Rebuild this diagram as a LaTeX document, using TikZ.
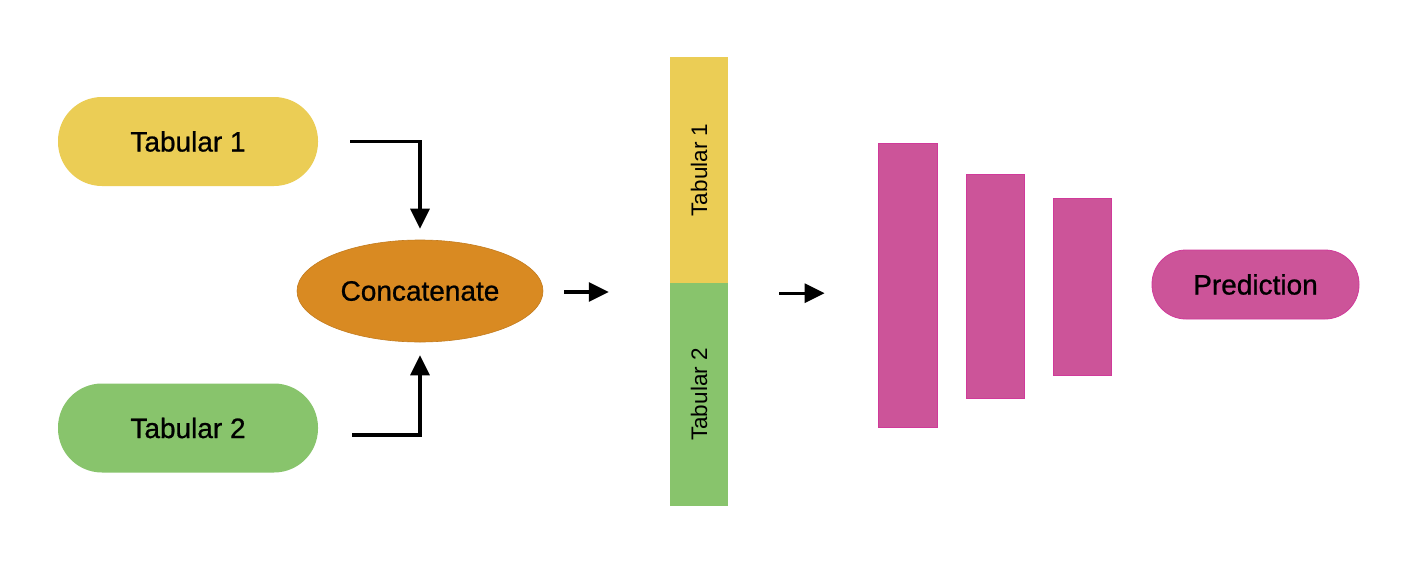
\documentclass[tikz,border=0pt]{standalone}
\usepackage{fontspec}
\setmainfont{Liberation Sans}
\newfontfamily\medfont{Liberation Sans}[FakeBold=0.8]
\usetikzlibrary{arrows.meta,shapes.geometric}
\definecolor{tyellow}{HTML}{EBCD55}
\definecolor{tgreen}{HTML}{88C46C}
\definecolor{torange}{HTML}{D98A22}
\definecolor{tmag}{HTML}{CC5499}
\definecolor{tmagedge}{HTML}{D03A9A}
\begin{document}
\begin{tikzpicture}[x=1pt,y=-1pt,
  pill/.style={rectangle,rounded corners=#1,inner sep=0pt,font=\medfont\fontsize{28}{30}\selectfont},
  bar/.style={rectangle,inner sep=0pt,fill=tmag,draw=tmagedge,line width=0.8pt},
  arr/.style={line width=3.2pt,-{Triangle[length=20pt,width=19pt]}}]
\useasboundingbox (0,0) rectangle (1417,565);
\fill[white] (0,0) rectangle (1417,565);
% inputs
\node[pill=44pt,fill=tyellow,minimum width=260pt,minimum height=89pt] (t1) at (188,141.5) {Tabular 1};
\node[pill=44pt,fill=tgreen,minimum width=260pt,minimum height=89pt] (t2) at (188,428) {Tabular 2};
\node[ellipse,fill=torange,draw=torange!90!black,line width=0.6pt,minimum width=246pt,minimum height=102pt,inner sep=0pt,font=\medfont\fontsize{28}{30}\selectfont] (cc) at (420,291) {Concatenate};
% concatenated vector
\node[rectangle,fill=tyellow,inner sep=0pt,minimum width=58pt,minimum height=226pt] (b1) at (699,170) {};
\node[rectangle,fill=tgreen,inner sep=0pt,minimum width=58pt,minimum height=223pt] (b2) at (699,394.5) {};
\node[rotate=90,font=\fontsize{22.5}{24}\selectfont] (l1) at (b1) {Tabular 1};
\node[rotate=90,font=\fontsize{22.5}{24}\selectfont] (l2) at (b2) {Tabular 2};
% network layers
\node[bar,minimum width=59pt,minimum height=284pt] (n1) at (907.5,285) {};
\node[bar,minimum width=58pt,minimum height=224pt] (n2) at (995,286) {};
\node[bar,minimum width=58pt,minimum height=177pt] (n3) at (1082,286.5) {};
\node[pill=34pt,fill=tmag,draw=tmagedge,line width=0.8pt,minimum width=207pt,minimum height=69pt] (pr) at (1255.5,284.5) {Prediction};
% connectors
\draw[arr] ([xshift=32pt]t1.east) -| ([yshift=11pt]cc.north);
\draw[arr] ([xshift=34pt,yshift=-7pt]t2.east) -| ([yshift=-13pt]cc.south);
\path (cc.east -| b1.west) coordinate (a3x);
\draw[arr] ([xshift=21pt,yshift=-1pt]cc.east) -- ([xshift=-61pt,yshift=-1pt]a3x);
\coordinate (a4s) at ([xshift=51pt,yshift=-10pt]b1.south east);
\path (a4s -| n1.west) coordinate (a4x);
\draw[arr] (a4s) -- ([xshift=-53pt]a4x);
\end{tikzpicture}
\end{document}
